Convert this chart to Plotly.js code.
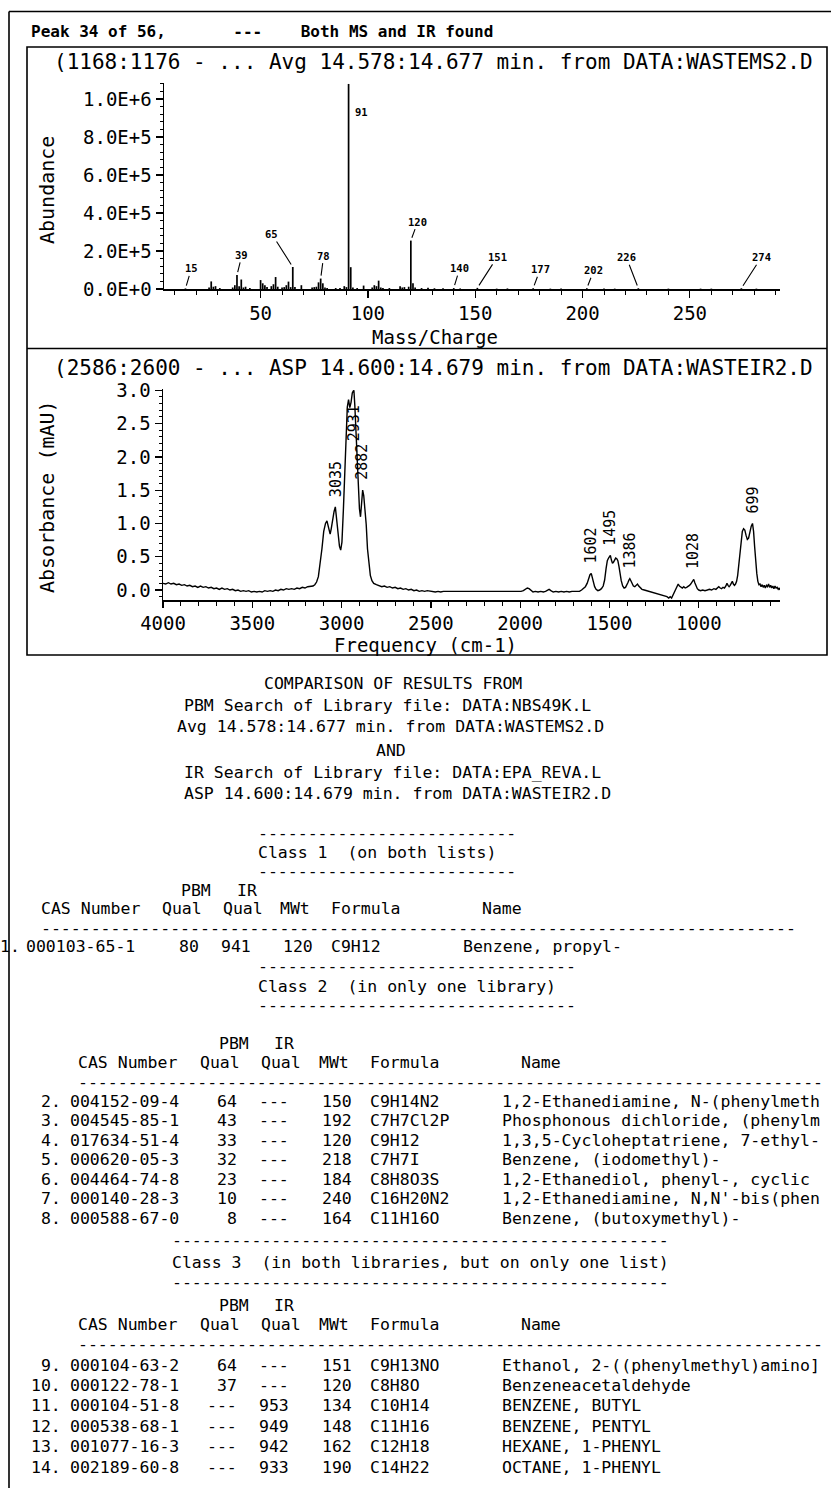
<!DOCTYPE html>
<html>
<head>
<meta charset="utf-8">
<script src="https://cdn.plot.ly/plotly-3.0.1.min.js"></script>
<style>
html, body { margin: 0; padding: 0; background: #fff; }
#report { width: 831px; height: 1488px; }
</style>
</head>
<body>
<div id="report"></div>
<script>
// ---------- Mass spectrum (averaged scans 1168:1176) ----------
const msMz = [15, 26, 27, 28, 29, 31, 37, 38, 39, 40, 41, 42, 43, 45, 50, 51, 52, 53, 55, 56, 57, 58,
  60, 61, 62, 63, 64, 65, 66, 69, 74, 75, 76, 77, 78, 79, 80, 81, 85, 87, 89, 90, 91, 92, 93, 95, 98,
  102, 103, 104, 105, 106, 107, 110, 115, 116, 117, 119, 120, 121, 122, 125, 128, 131, 135, 140, 143,
  151, 160, 165, 177, 185, 190, 202, 210, 215, 226, 240, 255, 260, 274, 281];
const msAbundance = [3000, 8000, 40000, 12000, 15000, 5000, 8000, 20000, 74000, 15000, 50000, 8000, 12000, 5000,
  47000, 30000, 20000, 10000, 15000, 25000, 63000, 12000, 8000, 10000, 20000, 39000, 10000, 116000, 10000,
  20000, 8000, 10000, 12000, 35000, 55000, 30000, 8000, 5000, 5000, 5000, 15000, 10000, 1080000, 115000,
  8000, 5000, 18000, 8000, 20000, 15000, 44000, 8000, 5000, 5000, 15000, 8000, 10000, 12000, 255000,
  30000, 8000, 5000, 6000, 4000, 4000, 5000, 3000, 6000, 2000, 3000, 4000, 2000, 2000, 4000, 2000,
  2000, 4000, 2000, 2000, 2000, 4000, 2000];
const msLabelMz = [15, 39, 65, 78, 91, 120, 140, 151, 177, 202, 226, 274];
const msTickVals = [0, 200000, 400000, 600000, 800000, 1000000];
const msTickText = ['0.0E+0', '2.0E+5', '4.0E+5', '6.0E+5', '8.0E+5', '1.0E+6'];

// ---------- IR spectrum (ASP 14.600:14.679 min) ----------
const irFreq = [4000, 3985, 3970, 3955, 3940, 3925, 3910, 3895, 3880, 3865, 3850, 3835, 3820, 3805, 3790,
  3775, 3760, 3745, 3730, 3715, 3700, 3685, 3670, 3655, 3640, 3625, 3610, 3595, 3580, 3565, 3550, 3535,
  3520, 3505, 3490, 3475, 3460, 3445, 3430, 3415, 3400, 3385, 3370, 3355, 3340, 3325, 3310, 3295, 3280,
  3265, 3250, 3235, 3220, 3205, 3190, 3175, 3160, 3150, 3140, 3130, 3120, 3110, 3100, 3090, 3082, 3076,
  3070, 3064, 3058, 3050, 3042, 3035, 3028, 3020, 3012, 3005, 2998, 2990, 2982, 2975, 2968, 2961, 2954,
  2947, 2940, 2934, 2931, 2926, 2920, 2914, 2907, 2900, 2894, 2888, 2882, 2876, 2869, 2862, 2855, 2847,
  2839, 2830, 2820, 2805, 2790, 2775, 2760, 2745, 2730, 2715, 2700, 2685, 2670, 2655, 2640, 2625, 2610,
  2595, 2580, 2565, 2550, 2535, 2520, 2505, 2490, 2475, 2460, 2445, 2430, 2415, 2400, 2385, 2370, 2355,
  2340, 2325, 2310, 2295, 2280, 2265, 2250, 2235, 2220, 2205, 2190, 2175, 2160, 2145, 2130, 2115, 2100,
  2085, 2070, 2055, 2040, 2025, 2010, 1995, 1982, 1970, 1960, 1950, 1940, 1928, 1915, 1900, 1885, 1870,
  1858, 1848, 1838, 1828, 1815, 1800, 1785, 1770, 1755, 1740, 1725, 1710, 1695, 1680, 1668, 1656, 1645,
  1635, 1625, 1616, 1609, 1602, 1596, 1590, 1583, 1575, 1565, 1555, 1545, 1535, 1527, 1519, 1512, 1505,
  1500, 1495, 1489, 1483, 1477, 1471, 1465, 1459, 1453, 1447, 1441, 1434, 1426, 1418, 1410, 1403, 1397,
  1391, 1386, 1380, 1373, 1366, 1358, 1350, 1343, 1336, 1328, 1318, 1305, 1292, 1278, 1265, 1250, 1235,
  1220, 1205, 1190, 1178, 1168, 1160, 1152, 1145, 1138, 1130, 1122, 1115, 1108, 1100, 1092, 1084, 1076,
  1068, 1060, 1052, 1045, 1038, 1033, 1028, 1022, 1015, 1008, 1000, 990, 978, 965, 952, 940, 928, 915,
  904, 895, 888, 880, 872, 864, 856, 848, 842, 836, 830, 824, 818, 812, 806, 800, 794, 788, 782, 776,
  770, 763, 756, 749, 742, 735, 728, 721, 714, 706, 699, 693, 687, 681, 675, 669, 663, 657, 651, 645,
  639, 633, 627, 621, 615, 609, 603, 597, 591, 585, 579, 573, 567, 561, 555, 549, 545];
const irAbsorbance = [0.10, 0.09, 0.11, 0.09, 0.10, 0.08, 0.09, 0.07, 0.08, 0.06, 0.07, 0.05, 0.06, 0.04, 0.06,
  0.04, 0.05, 0.03, 0.04, 0.02, 0.03, 0.01, 0.03, 0.01, 0.02, 0.00, 0.01, -0.01, 0.00, -0.02, -0.01, -0.02,
  -0.01, -0.03, -0.02, -0.03, -0.02, -0.03, -0.01, -0.02, -0.01, -0.02, 0.00, -0.01, 0.01, 0.00, 0.02, 0.01, 0.02,
  0.01, 0.03, 0.02, 0.04, 0.03, 0.05, 0.05, 0.06, 0.08, 0.12, 0.20, 0.38, 0.62, 0.88, 1.00, 1.04, 0.98,
  0.88, 0.84, 0.92, 1.08, 1.18, 1.25, 1.05, 0.85, 0.66, 0.60, 0.72, 1.20, 1.85, 2.45, 2.75, 2.86, 2.74,
  2.82, 2.96, 2.99, 3.00, 2.78, 2.45, 1.98, 1.55, 1.22, 1.10, 1.30, 1.50, 1.42, 1.25, 0.98, 0.62, 0.38,
  0.22, 0.14, 0.10, 0.08, 0.07, 0.05, 0.06, 0.04, 0.05, 0.03, 0.04, 0.02, 0.03, 0.01, 0.02, 0.00, 0.01,
  -0.01, 0.00, -0.02, -0.01, -0.02, -0.01, -0.02, -0.02, -0.03, -0.02, -0.03, -0.02, -0.02, -0.03, -0.02, -0.02, -0.03,
  -0.02, -0.03, -0.02, -0.02, -0.03, -0.02, -0.03, -0.03, -0.02, -0.03, -0.02, -0.03, -0.03, -0.02, -0.03, -0.03, -0.02,
  -0.03, -0.03, -0.02, -0.03, -0.02, -0.03, -0.02, -0.01, 0.01, 0.03, 0.02, -0.01, -0.03, -0.02, -0.03, -0.02, -0.03,
  -0.02, 0.00, 0.01, -0.01, -0.03, -0.02, -0.03, -0.02, -0.03, -0.02, -0.03, -0.02, -0.02, -0.01, -0.02, 0.00, 0.02,
  0.05, 0.10, 0.18, 0.23, 0.25, 0.19, 0.11, 0.05, 0.01, -0.01, 0.00, 0.02, 0.06, 0.15, 0.32, 0.44, 0.48,
  0.50, 0.52, 0.45, 0.40, 0.42, 0.46, 0.48, 0.47, 0.44, 0.36, 0.25, 0.14, 0.06, 0.03, 0.04, 0.07, 0.11,
  0.15, 0.17, 0.14, 0.09, 0.06, 0.05, 0.07, 0.09, 0.06, 0.03, 0.01, 0.00, -0.01, -0.03, -0.04, -0.05, -0.06,
  -0.07, -0.08, -0.09, -0.10, -0.12, -0.10, -0.12, -0.08, -0.03, 0.02, 0.07, 0.09, 0.06, 0.04, 0.03, 0.05, 0.03,
  0.04, 0.05, 0.07, 0.09, 0.12, 0.15, 0.16, 0.11, 0.05, 0.02, 0.00, -0.01, 0.00, -0.01, 0.00, 0.01, 0.00, 0.02,
  0.01, 0.03, 0.05, 0.03, 0.02, 0.04, 0.03, 0.06, 0.10, 0.07, 0.05, 0.07, 0.11, 0.13, 0.09, 0.07, 0.09, 0.13, 0.22, 0.38,
  0.58, 0.78, 0.88, 0.92, 0.90, 0.82, 0.76, 0.78, 0.88, 0.96, 1.00, 0.88, 0.65, 0.42, 0.25, 0.13, 0.08, 0.09, 0.05, 0.08,
  0.04, 0.07, 0.03, 0.07, 0.05, 0.09, 0.04, 0.07, 0.03, 0.06, 0.02, 0.06, 0.03, 0.04, 0.01, 0.03, 0.00];
const irLabelFreq = [3035, 2931, 2882, 1602, 1495, 1386, 1028, 699];

// ---------- Library search hits ----------
const hitNo = ['1.', '2.', '3.', '4.', '5.', '6.', '7.', '8.', '9.', '10.', '11.', '12.', '13.', '14.'];
const hitClass = [1, 2, 2, 2, 2, 2, 2, 2, 3, 3, 3, 3, 3, 3];
const hitCas = ['000103-65-1', '004152-09-4', '004545-85-1', '017634-51-4', '000620-05-3', '004464-74-8',
  '000140-28-3', '000588-67-0', '000104-63-2', '000122-78-1', '000104-51-8', '000538-68-1', '001077-16-3',
  '002189-60-8'];
const hitPbmQual = ['80', '64', '43', '33', '32', '23', '10', '8', '64', '37', '---', '---', '---', '---'];
const hitIrQual = ['941', '---', '---', '---', '---', '---', '---', '---', '---', '---', '953', '949', '942', '933'];
const hitMw = ['120', '150', '192', '120', '218', '184', '240', '164', '151', '120', '134', '148', '162', '190'];
const hitFormula = ['C9H12', 'C9H14N2', 'C7H7Cl2P', 'C9H12', 'C7H7I', 'C8H8O3S', 'C16H20N2', 'C11H16O',
  'C9H13NO', 'C8H8O', 'C10H14', 'C11H16', 'C12H18', 'C14H22'];
const hitName = ['Benzene, propyl-', '1,2-Ethanediamine, N-(phenylmeth', 'Phosphonous dichloride, (phenylm',
  '1,3,5-Cycloheptatriene, 7-ethyl-', 'Benzene, (iodomethyl)-', '1,2-Ethanediol, phenyl-, cyclic',
  "1,2-Ethanediamine, N,N'-bis(phen", 'Benzene, (butoxymethyl)-', 'Ethanol, 2-((phenylmethyl)amino]',
  'Benzeneacetaldehyde', 'BENZENE, BUTYL', 'BENZENE, PENTYL', 'HEXANE, 1-PHENYL', 'OCTANE, 1-PHENYL'];
const classTitles = ['Class 1  (on both lists)', 'Class 2  (in only one library)',
  'Class 3  (in both libraries, but on only one list)'];
const headerTop = ['PBM', 'IR'];
const headerCols = ['CAS Number', 'Qual', 'Qual', 'MWt', 'Formula', 'Name'];

// ---------- page geometry helpers (pixels -> paper) ----------
const W = 831, H = 1488;
const fx = x => x / W;
const fy = y => 1 - y / H;
const mono = 'DejaVu Sans Mono, monospace';
const ink = '#000';
const annotations = [];
const shapes = [];

function text(s, x, y, o = {}) {
  annotations.push({
    text: String(s).replace(/ /g, '\u00a0'),
    x: fx(x), y: fy(y), xref: 'paper', yref: 'paper',
    showarrow: false, xanchor: o.anchor || 'left', yanchor: 'middle',
    textangle: o.angle || 0, borderpad: 0,
    font: { family: mono, size: o.size || 16.5, color: ink, weight: o.weight || 'normal' }
  });
}
function line(x0, y0, x1, y1, w) {
  shapes.push({ type: 'line', xref: 'paper', yref: 'paper', x0: fx(x0), y0: fy(y0), x1: fx(x1), y1: fy(y1),
    line: { color: ink, width: w || 1.6 } });
}

// page frame and panel boxes
line(9, 11.5, 831, 11.5);
line(9, 11.5, 9, 1488);
shapes.push({ type: 'rect', xref: 'paper', yref: 'paper', x0: fx(27), x1: fx(827), y0: fy(655), y1: fy(47),
  line: { color: ink, width: 1.6 } });
line(27, 348.5, 827, 348.5);

// report header and panel captions
text('Peak 34 of 56,       ---    Both MS and IR found', 30, 32, { size: 16, weight: 'bold' });
text('(1168:1176 - ... Avg 14.578:14.677 min. from DATA:WASTEMS2.D', 53, 62, { size: 21 });
text('(2586:2600 - ... ASP 14.600:14.679 min. from DATA:WASTEIR2.D', 53, 368, { size: 21 });
text('Abundance', 47, 190, { size: 20, angle: -90, anchor: 'center' });
text('Mass/Charge', 435, 337, { size: 19, anchor: 'center' });
text('Absorbance (mAU)', 47, 497, { size: 20, angle: -90, anchor: 'center' });
text('Frequency (cm-1)', 426, 645, { size: 19, anchor: 'center' });

// MS peak labels with leader lines
const msLeader = { 15: [6, -20], 39: [5, -20], 65: [-21, -33], 78: [3, -23], 120: [7, -19], 140: [6, -20],
  151: [20, -31], 177: [7, -19], 202: [7, -18], 226: [-12, -31], 274: [20, -31] };
msLabelMz.forEach(m => {
  const v = msAbundance[msMz.indexOf(m)];
  const lab = { x: m, y: v, xref: 'x', yref: 'y', text: String(m),
    font: { family: mono, size: 10.5, color: ink, weight: 'bold' } };
  if (msLeader[m]) {
    Object.assign(lab, { showarrow: true, arrowhead: 0, arrowwidth: 1.1, arrowcolor: ink,
      ax: msLeader[m][0], ay: msLeader[m][1], standoff: 3 });
  } else {
    Object.assign(lab, { showarrow: false, xanchor: 'left', yanchor: 'top', xshift: 4, yshift: -20 });
  }
  annotations.push(lab);
});

// IR peak labels, vertical text above each band
irLabelFreq.forEach(f => {
  const v = irAbsorbance[irFreq.indexOf(f)];
  const crowded = v > 2.5;
  annotations.push({ x: f, y: v, xref: 'x2', yref: 'y2', text: String(f), showarrow: false,
    textangle: -90, xanchor: 'center', yanchor: crowded ? 'top' : 'bottom', yshift: crowded ? -13 : 8,
    font: { family: mono, size: 15, color: ink } });
});

// comparison report text
text('COMPARISON OF RESULTS FROM', 393, 683, { anchor: 'center' });
text('PBM Search of Library file: DATA:NBS49K.L', 183, 705);
text('Avg 14.578:14.677 min. from DATA:WASTEMS2.D', 176, 727);
text('AND', 391, 750, { anchor: 'center' });
text('IR Search of Library file: DATA:EPA_REVA.L', 183, 772);
text('ASP 14.600:14.679 min. from DATA:WASTEIR2.D', 183, 793);

// per-class block layout: vertical rows and column positions
const blocks = [
  { cls: 1, dashTop: 833, title: 852, dashBot: 871, top: 890, head: 909, rule: 928, rows: [946], step: 19.5,
    titleX: 257, titleDash: 26, ruleLen: 76,
    col: { no: 21, cas: 25, pbm: 200, ir: 252, mw: 282, fm: 330, name: 462,
           hPbm: 180, hIr: 236, hCas: 40, hQ1: 161, hQ2: 222, hMw: 279, hFm: 330, hName: 481, rule: 40 } },
  { cls: 2, dashTop: 966, title: 986, dashBot: 1005, top: 1043, head: 1062, rule: 1082, first: 1101, step: 19.5,
    titleX: 257, titleDash: 32, ruleLen: 75,
    col: { no: 62, cas: 69, pbm: 238, ir: 290, mw: 321, fm: 369, name: 501,
           hPbm: 218, hIr: 273, hCas: 77, hQ1: 199, hQ2: 260, hMw: 318, hFm: 369, hName: 520, rule: 77 } },
  { cls: 3, dashTop: 1240, title: 1262, dashBot: 1282, top: 1305, head: 1324, rule: 1344, first: 1365, step: 20.4,
    titleX: 171, titleDash: 50, ruleLen: 75,
    col: { no: 62, cas: 69, pbm: 238, ir: 290, mw: 321, fm: 369, name: 501,
           hPbm: 218, hIr: 273, hCas: 77, hQ1: 199, hQ2: 260, hMw: 318, hFm: 369, hName: 520, rule: 77 } }
];

blocks.forEach(b => {
  const c = b.col;
  text('-'.repeat(b.titleDash), b.titleX, b.dashTop);
  text(classTitles[b.cls - 1], b.titleX, b.title);
  text('-'.repeat(b.titleDash), b.titleX, b.dashBot);
  text(headerTop[0], c.hPbm, b.top);
  text(headerTop[1], c.hIr, b.top);
  [c.hCas, c.hQ1, c.hQ2, c.hMw, c.hFm, c.hName].forEach((x, i) => text(headerCols[i], x, b.head));
  text('-'.repeat(b.ruleLen), c.rule, b.rule);
  let r = 0;
  hitClass.forEach((k, i) => {
    if (k !== b.cls) return;
    const y = b.rows ? b.rows[r] : b.first + r * b.step;
    text(hitNo[i], c.no, y, { anchor: 'right' });
    text(hitCas[i], c.cas, y);
    text(hitPbmQual[i], c.pbm, y, { anchor: 'right' });
    text(hitIrQual[i], c.ir, y, { anchor: 'right' });
    text(hitMw[i], c.mw, y);
    text(hitFormula[i], c.fm, y);
    text(hitName[i], c.name, y);
    r++;
  });
});

// ---------- traces ----------
const traces = [
  { type: 'bar', x: msMz, y: msAbundance, width: 0.8, marker: { color: ink, line: { width: 0 } },
    xaxis: 'x', yaxis: 'y', hoverinfo: 'skip' },
  { type: 'scatter', mode: 'lines', x: irFreq, y: irAbsorbance, line: { color: ink, width: 1.4 },
    xaxis: 'x2', yaxis: 'y2', hoverinfo: 'skip' }
];

const axisBase = {
  showline: true, linecolor: ink, linewidth: 1.5, ticks: 'outside', ticklen: 7, tickwidth: 1.3,
  tickcolor: ink, showgrid: false, zeroline: false, fixedrange: true,
  tickfont: { family: mono, size: 19, color: ink }
};
const minor = (dtick, len) => ({ tickmode: 'linear', tick0: 0, dtick: dtick, ticks: 'outside', ticklen: len,
  tickwidth: 1, tickcolor: ink, showgrid: false });

const layout = {
  width: W, height: H, margin: { l: 0, r: 0, t: 0, b: 0 },
  paper_bgcolor: '#fff', plot_bgcolor: '#fff', showlegend: false,
  xaxis: Object.assign({}, axisBase, { domain: [fx(164), fx(780)], range: [5, 292], anchor: 'y',
    tickmode: 'linear', tick0: 0, dtick: 50, ticklabelstandoff: 0, minor: minor(10, 4) }),
  yaxis: Object.assign({}, axisBase, { domain: [fy(289), fy(83)], range: [0, 1085000], anchor: 'x',
    tickmode: 'array', tickvals: msTickVals, ticktext: msTickText, minor: minor(40000, 3) }),
  xaxis2: Object.assign({}, axisBase, { domain: [fx(163), fx(780)], range: [4000, 545], anchor: 'y2',
    tickmode: 'linear', tick0: 0, dtick: 500, ticklen: 6, ticklabelstandoff: 0, minor: minor(100, 4) }),
  yaxis2: Object.assign({}, axisBase, { domain: [fy(600), fy(389)], range: [-0.15, 3.02], anchor: 'x2',
    tickmode: 'linear', tick0: 0, dtick: 0.5, tickformat: '.1f', minor: minor(0.1, 3) }),
  annotations: annotations,
  shapes: shapes
};

Plotly.newPlot('report', traces, layout, { staticPlot: true, displayModeBar: false });
</script>
</body>
</html>
